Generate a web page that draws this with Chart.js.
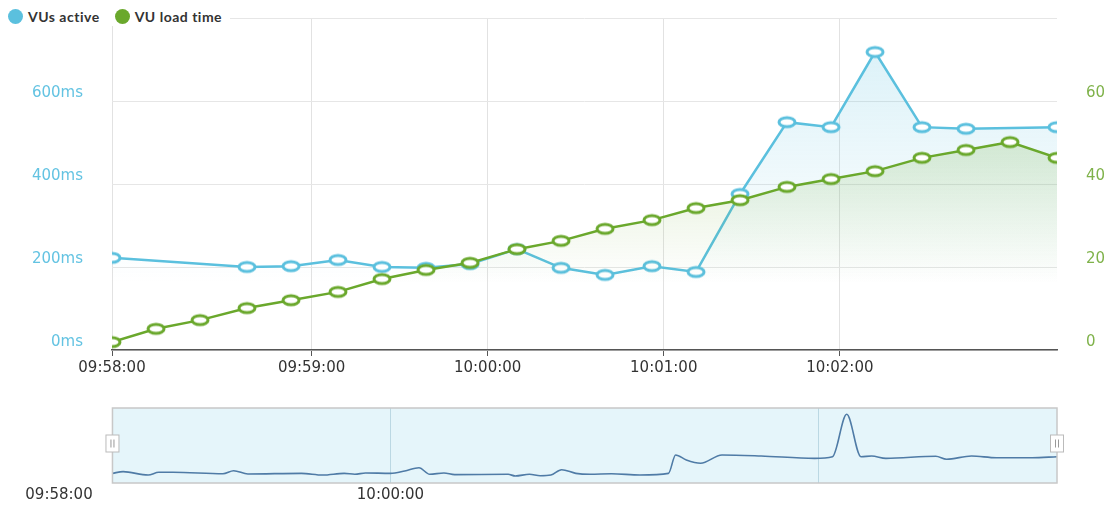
<!DOCTYPE html>
<html>
<head>
<meta charset="utf-8">
<script src="https://cdn.jsdelivr.net/npm/chart.js@4.4.1/dist/chart.umd.min.js"></script>
<style>
  html, body { margin: 0; padding: 0; background: #fff; }
  #wrap { position: relative; width: 1116px; height: 510px; overflow: hidden; }
  #main { position: absolute; left: 0; top: 0; }
  #nav { position: absolute; left: 0; top: 400px; }
  #legend { position: absolute; left: 6px; top: 6px; height: 20px; padding: 0 8px 0 2px; background: #fff;
            display: flex; align-items: center; font: bold 14px Lato, sans-serif; letter-spacing: 0.5px; color: #333; }
  .item { display: flex; align-items: center; margin-right: 15px; }
  .item:last-child { margin-right: 0; }
  .dot { width: 15px; height: 15px; border-radius: 50%; margin-right: 5px; }
</style>
</head>
<body>
<div id="wrap">
  <canvas id="main" width="1116" height="390"></canvas>
  <canvas id="nav" width="1116" height="110"></canvas>
  <div id="legend"></div>
</div>
<script>
// sample times (main chart)
const times = ['09:57:52', '09:58:07', '09:58:22', '09:58:38', '09:58:53', '09:59:09', '09:59:24', '09:59:39',
  '09:59:54', '10:00:10', '10:00:25', '10:00:40', '10:00:56', '10:01:11', '10:01:26', '10:01:42',
  '10:01:57', '10:02:12', '10:02:28', '10:02:43', '10:02:58', '10:03:14']
// left axis (ms)
const vusActive = [222, null, null, 200, 202, 217, 200, 198, 207, 243, 198, 181, 202, 188, 376, 549, 537, 718, 537, 533, null, 537]
// right axis
const vuLoadTime = [1.9, 5.1, 7.2, 10.1, 12.0, 14.0, 17.1, 19.3, 21.0, 24.3, 26.3, 29.2, 31.3, 34.2, 36.1, 39.3, 41.2, 43.1, 46.3, 48.2, 50.1, 46.3]

// first label sits at the start of the axis
const xTickTimes = ['09:58:00', '09:59:00', '10:00:00', '10:01:00', '10:02:00']
const leftTicks = [0, 200, 400, 600, 800]
const rightTicks = [0, 20, 40, 60, 80]

// navigator
const navRange = ['09:58:27', '10:03:07']
const navTimes = ['09:58:42', '09:58:45', '09:58:52', '09:58:55', '09:58:59', '09:59:13', '09:59:16', '09:59:20',
  '09:59:35', '09:59:41', '09:59:47', '09:59:50', '09:59:53', '10:00:00', '10:00:04', '10:00:08', '10:00:11',
  '10:00:15', '10:00:18', '10:00:33', '10:00:35', '10:00:39', '10:00:42', '10:00:45', '10:00:48', '10:00:52',
  '10:00:56', '10:01:02', '10:01:10', '10:01:18', '10:01:20', '10:01:23', '10:01:27', '10:01:33', '10:01:44',
  '10:01:59', '10:02:04', '10:02:08', '10:02:12', '10:02:15', '10:02:19', '10:02:33', '10:02:36', '10:02:43',
  '10:02:50', '10:03:00', '10:03:07']
const navValues = [103, 121, 85, 114, 114, 99, 131, 96, 103, 85, 103, 93, 107, 103, 128, 163, 93, 107, 89, 93,
  75, 93, 78, 85, 142, 103, 93, 99, 85, 103, 299, 245, 210, 299, 288, 263, 280, 733, 280, 288,
  263, 285, 253, 288, 270, 270, 280]
const navGridTimes = ['09:58:00', '10:00:00', '10:02:00']
const navLabelTimes = ['09:58:00', '10:00:00']

const blue = '#5bc0de'
const green = '#6aa82c'

function toSec(t) {
  const p = t.split(':').map(Number)
  return p[0] * 3600 + p[1] * 60 + p[2] - (9 * 3600 + 58 * 60)
}

function marker(color) {
  const c = document.createElement('canvas')
  c.width = 22; c.height = 15
  const g = c.getContext('2d')
  g.beginPath()
  g.ellipse(11, 7.5, 8, 4.6, 0, 0, Math.PI * 2)
  g.fillStyle = '#fff'
  g.fill()
  g.lineWidth = 3
  g.strokeStyle = color
  g.stroke()
  return c
}

function fade(c0, c1, stop) {
  return function (ctx) {
    const a = ctx.chart.chartArea
    if (!a) return c1
    const gr = ctx.chart.ctx.createLinearGradient(0, a.top, 0, a.bottom)
    gr.addColorStop(0, c0)
    gr.addColorStop(stop, c1)
    gr.addColorStop(1, c1)
    return gr
  }
}

function timeTicks(list) {
  return s => { s.ticks = list.map((t, i) => ({ value: i === 0 ? s.min : toSec(t) })) }
}

document.getElementById('legend').innerHTML =
  '<div class="item"><span class="dot" style="background:' + blue + '"></span>VUs active</div>' +
  '<div class="item"><span class="dot" style="background:' + green + '"></span>VU load time</div>'

const tickFont = { family: '"DejaVu Sans", sans-serif', size: 15 }

new Chart(document.getElementById('main'), {
  type: 'line',
  data: {
    datasets: [{
      label: 'VU load time',
      data: times.map((t, i) => ({ x: toSec(t), y: vuLoadTime[i] })),
      yAxisID: 'y1',
      borderColor: green,
      borderWidth: 2.5,
      pointStyle: marker(green),
      fill: 'origin',
      backgroundColor: fade('rgba(106,168,44,0.36)', 'rgba(106,168,44,0)', 0.8)
    }, {
      label: 'VUs active',
      data: times.map((t, i) => ({ x: toSec(t), y: vusActive[i] })),
      yAxisID: 'y',
      spanGaps: true,
      borderColor: blue,
      borderWidth: 2.5,
      pointStyle: marker(blue),
      fill: 'origin',
      backgroundColor: fade('rgba(91,192,222,0.24)', 'rgba(91,192,222,0)', 0.8)
    }]
  },
  options: {
    responsive: false,
    animation: false,
    events: [],
    layout: { padding: { top: 18, left: 0, right: 0, bottom: 0 } },
    plugins: { legend: { display: false }, tooltip: { enabled: false } },
    scales: {
      x: {
        type: 'linear',
        min: toSec(times[0]),
        max: toSec(times[times.length - 1]),
        afterBuildTicks: timeTicks(xTickTimes),
        afterFit: s => { s.height = 40 },
        grid: { color: '#e2e2e2', tickColor: '#555', tickLength: 6 },
        border: { color: '#555', width: 1.5 },
        ticks: { font: tickFont, color: '#333', padding: 3, maxRotation: 0, callback: (v, i) => xTickTimes[i] }
      },
      y: {
        position: 'left',
        min: 0,
        max: leftTicks[leftTicks.length - 1],
        afterBuildTicks: s => { s.ticks = leftTicks.map(v => ({ value: v })) },
        afterFit: s => { s.width = 112; s.paddingTop = 0; s.paddingBottom = 0 },
        grid: { color: '#e6e6e6', drawTicks: false },
        border: { display: false },
        ticks: {
          font: tickFont, color: '#63c3e2', padding: 29, labelOffset: -8,
          callback: v => v >= 800 ? '' : v + 'ms'
        }
      },
      y1: {
        position: 'right',
        min: 0,
        max: rightTicks[rightTicks.length - 1],
        afterBuildTicks: s => { s.ticks = rightTicks.map(v => ({ value: v })) },
        afterFit: s => { s.width = 59; s.paddingTop = 0; s.paddingBottom = 0 },
        grid: { drawOnChartArea: false, drawTicks: false },
        border: { display: false },
        ticks: {
          font: tickFont, color: '#7fb24a', padding: 29, labelOffset: -8,
          callback: v => v >= 80 ? '' : v
        }
      }
    }
  }
})

// navigator box and handles
const navBox = {
  id: 'navBox',
  beforeDatasetsDraw(chart) {
    const a = chart.chartArea
    const x0 = chart.scales.x.getPixelForValue(toSec(navTimes[0]))
    const c = chart.ctx
    c.save()
    c.fillStyle = 'rgba(91,192,222,0.16)'
    c.fillRect(x0, a.top, a.right - x0, a.bottom - a.top)
    c.restore()
  },
  afterDraw(chart) {
    const a = chart.chartArea
    const x0 = chart.scales.x.getPixelForValue(toSec(navTimes[0]))
    const c = chart.ctx
    c.save()
    c.strokeStyle = '#c8c8c8'
    c.lineWidth = 1.5
    c.strokeRect(x0, a.top, a.right - x0, a.bottom - a.top)
    const my = (a.top + a.bottom) / 2 - 2
    ;[x0, a.right].forEach(x => {
      c.fillStyle = '#fff'
      c.strokeStyle = '#bbb'
      c.lineWidth = 1
      c.fillRect(x - 6.5, my - 8.5, 13, 17)
      c.strokeRect(x - 6.5, my - 8.5, 13, 17)
      c.strokeStyle = '#999'
      c.beginPath()
      c.moveTo(x - 1.5, my - 4); c.lineTo(x - 1.5, my + 4)
      c.moveTo(x + 1.5, my - 4); c.lineTo(x + 1.5, my + 4)
      c.stroke()
    })
    c.restore()
  }
}

new Chart(document.getElementById('nav'), {
  type: 'line',
  data: {
    datasets: [{
      data: navTimes.map((t, i) => ({ x: toSec(t), y: navValues[i] })),
      borderColor: '#4f7ba6',
      borderWidth: 1.6,
      pointRadius: 0,
      cubicInterpolationMode: 'monotone',
      fill: false
    }]
  },
  options: {
    responsive: false,
    animation: false,
    events: [],
    layout: { padding: { top: 8, left: 59, right: 59, bottom: 0 } },
    plugins: { legend: { display: false }, tooltip: { enabled: false } },
    scales: {
      x: {
        type: 'linear',
        min: toSec(navRange[0]),
        max: toSec(navRange[1]),
        afterBuildTicks: timeTicks(navGridTimes),
        afterFit: s => { s.height = 27 },
        grid: { color: c => c.index === 0 ? 'rgba(0,0,0,0)' : '#cddde4', drawTicks: false },
        border: { display: false },
        ticks: {
          font: tickFont, color: '#333', padding: 3, maxRotation: 0,
          callback: (v, i) => navLabelTimes.includes(navGridTimes[i]) ? navGridTimes[i] : ''
        }
      },
      y: { display: false, min: 0, max: 800 }
    }
  },
  plugins: [navBox]
})
</script>
</body>
</html>
